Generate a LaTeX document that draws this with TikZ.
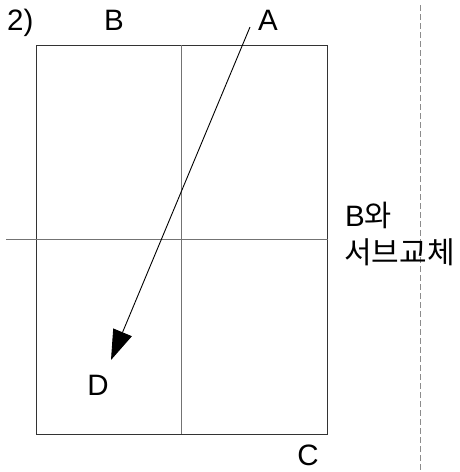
\documentclass[tikz,border=0pt]{standalone}
\usepackage{fontspec}
\setmainfont{Liberation Sans}
\newfontfamily\krfont{Noto Sans CJK KR}
\usetikzlibrary{arrows.meta}
\begin{document}
\begin{tikzpicture}[x=1pt,y=-1pt,
  lbl/.style={inner sep=0pt, font=\fontsize{29.5}{30}\selectfont},
  frame/.style={draw=black!80, line width=0.9pt},
  guide/.style={draw=black!55, line width=0.9pt},
  dashguide/.style={draw=black!45, line width=0.9pt, dash pattern=on 6pt off 3pt},
  bigarrow/.style={draw=black, line width=0.9pt, -{Triangle[length=30pt,width=20pt]}}]
\useasboundingbox (0,0) rectangle (460,472);
% frame and guides
\coordinate (tl) at (36,45);
\coordinate (br) at (327,434);
\draw[frame] (tl) rectangle (br);
\coordinate (vt) at (181,45);
\coordinate (vb) at (181,434);
\draw[guide] (vt) -- (vb);
\coordinate (hl) at (6,239);
\coordinate (hr) at (328,239);
\draw[guide] (hl) -- (hr);
\coordinate (dt) at (420,5);
\coordinate (db) at (420,472);
\draw[dashguide] (dt) -- (db);
% labels
\node[lbl, anchor=base west] (n2) at (7,30) {2)};
\node[lbl, anchor=base] (nB) at (114,30) {B};
\node[lbl, anchor=base] (nA) at (268,30) {A};
\node[lbl, anchor=base] (nD) at (98,395) {D};
\node[lbl, anchor=base] (nC) at (308,465) {C};
\node[lbl, anchor=base west] (nBw) at (345,226) {B\krfont 와};
\node[lbl, anchor=base west, font=\fontsize{30}{30}\krfont] (nsub) at (344,263) {서브교체};
% arrow
\coordinate (as) at (250,27);
\coordinate (ae) at (111,360);
\draw[bigarrow] (as) -- (ae);
\end{tikzpicture}
\end{document}
